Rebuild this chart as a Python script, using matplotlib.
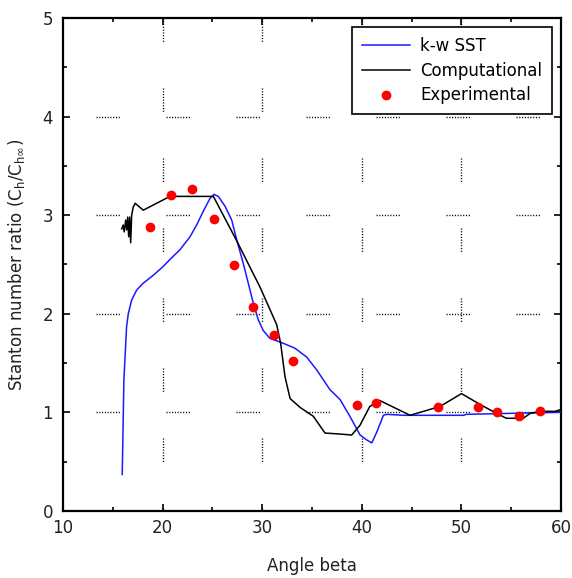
import matplotlib
matplotlib.use("Agg")
import matplotlib.pyplot as plt
from matplotlib.ticker import MultipleLocator

# k-w SST model
sst_beta = [15.95, 15.99, 16.12, 16.22, 16.39, 16.56, 16.9, 17.4, 18.06, 19.07,
            20.07, 20.74, 21.75, 22.75, 23.42, 24.09, 24.76, 25.16, 25.6, 26.27,
            26.94, 27.44, 28.1, 28.6, 29.1, 29.6, 30.1, 30.78, 32.12, 33.29,
            34.47, 35.47, 36.8, 37.81, 38.8, 39.82, 40.49, 41.0, 41.5, 42.16,
            42.5, 44.2, 50.2, 50.5, 55.0, 60.0]
sst_ratio = [0.37, 0.59, 1.33, 1.53, 1.87, 2.0, 2.14, 2.24, 2.31, 2.39,
             2.48, 2.55, 2.65, 2.78, 2.90, 3.04, 3.17, 3.21, 3.19, 3.09,
             2.95, 2.75, 2.51, 2.31, 2.11, 1.94, 1.83, 1.75, 1.70, 1.65,
             1.56, 1.43, 1.23, 1.13, 0.96, 0.77, 0.72, 0.69, 0.80, 0.97,
             0.98, 0.97, 0.97, 0.98, 0.99, 1.0]

# computational result
comp_beta = [15.9, 16.05, 16.15, 16.3, 16.4, 16.5, 16.6, 16.7, 16.8, 16.9,
             17.05, 17.25, 18.06, 20.74, 25.1, 27.44, 29.78, 31.45, 31.85, 32.29,
             32.8, 33.8, 35.13, 36.3, 37.8, 38.98, 39.82, 40.8, 41.8, 44.84,
             47.85, 50.0, 51.87, 53.5, 54.5, 56.2, 56.9, 57.9, 59.4, 60.0]
comp_ratio = [2.86, 2.90, 2.83, 2.95, 2.85, 2.98, 2.78, 2.98, 2.72, 3.0,
              3.08, 3.12, 3.05, 3.19, 3.19, 2.74, 2.27, 1.89, 1.70, 1.36,
              1.14, 1.05, 0.96, 0.79, 0.78, 0.77, 0.87, 1.06, 1.12, 0.97,
              1.06, 1.19, 1.08, 0.99, 0.94, 0.94, 0.99, 1.01, 1.01, 1.03]

# experimental data
exp_beta = [18.73, 20.84, 22.92, 25.19, 27.17, 29.1, 31.18, 33.12, 39.49, 41.43,
            47.69, 51.7, 53.6, 55.8, 57.9]
exp_ratio = [2.88, 3.20, 3.26, 2.96, 2.49, 2.07, 1.785, 1.52, 1.075, 1.095,
             1.05, 1.05, 1.0, 0.96, 1.01]

x_grid = [20, 30, 40, 50]
y_grid = [1, 2, 3, 4]

plt.rcParams["font.family"] = ["DejaVu Sans"]
plt.rcParams["mathtext.default"] = "regular"
plt.rcParams["lines.scale_dashes"] = False

fig = plt.figure(figsize=(5.72, 5.78), dpi=100)
ax = fig.add_axes([0.110, 0.116, 0.871, 0.853])

# dotted dash grid: a short run of dots, then a long gap
px = 0.72
dots = []
for i in range(9):
    dots += [0.8, 1.2]
dots[-1] = 1.2 + 45 * px
for xv in x_grid:
    ax.plot([xv, xv], [5, 0], color="black", lw=1.0,
            linestyle=(0, dots), zorder=1)
for yv in y_grid:
    ax.plot([10, 60], [yv, yv], color="black", lw=1.0,
            linestyle=(37 * px, dots), zorder=1)

ax.plot(sst_beta, sst_ratio, color="#1a1aff", lw=1.1, label="k-w SST", zorder=3)
ax.plot(comp_beta, comp_ratio, color="black", lw=1.1, label="Computational", zorder=3)
ax.plot(exp_beta, exp_ratio, "o", color="#ff0000", ms=6, label="Experimental", zorder=4)

ax.set_xlim(10, 60)
ax.set_ylim(0, 5)
ax.xaxis.set_major_locator(MultipleLocator(10))
ax.xaxis.set_minor_locator(MultipleLocator(5))
ax.yaxis.set_major_locator(MultipleLocator(1))
ax.yaxis.set_minor_locator(MultipleLocator(0.5))
ax.tick_params(which="both", direction="in", top=True, right=True,
               labelsize=12, labelcolor="#222222", width=1.2)
ax.tick_params(which="major", length=5)
ax.tick_params(which="minor", length=3)
ax.tick_params(axis="x", pad=6)
ax.tick_params(axis="y", pad=7)
for s in ax.spines.values():
    s.set_linewidth(1.6)

ax.set_xlabel("Angle beta", fontsize=12, color="#222222", labelpad=14)
ax.set_ylabel(r"Stanton number ratio (C$_{h}$/C$_{h\infty}$)", fontsize=12,
              color="#222222", labelpad=11)

leg = ax.legend(loc="upper right", fontsize=12, fancybox=False, framealpha=1,
                edgecolor="black", borderaxespad=0.55, handlelength=2.9,
                handletextpad=0.6, labelspacing=0.4, borderpad=0.6)
leg.get_frame().set_linewidth(1.2)
leg.set_zorder(5)

fig.savefig("out.png", dpi=100)
